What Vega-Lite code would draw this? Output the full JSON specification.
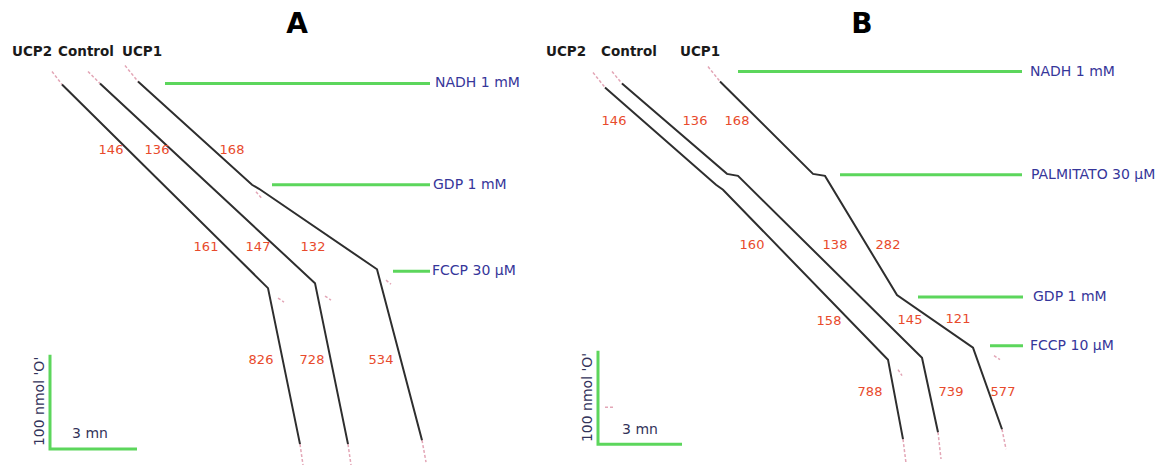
{
  "$schema": "https://vega.github.io/schema/vega-lite/v6.json",
  "width": 1169,
  "height": 468,
  "padding": 0,
  "autosize": {"type": "fit", "contains": "padding"},
  "background": "white",
  "config": {"view": {"stroke": null}},
  "datasets": {
    "lines": [
      {"id": "A_UCP2", "kind": "trace", "o": 1, "x": 62, "y": 85},
      {"id": "A_UCP2", "kind": "trace", "o": 2, "x": 268, "y": 290},
      {"id": "A_UCP2", "kind": "trace", "o": 3, "x": 300, "y": 447},
      {"id": "A_Ctrl", "kind": "trace", "o": 1, "x": 100, "y": 84},
      {"id": "A_Ctrl", "kind": "trace", "o": 2, "x": 315, "y": 285},
      {"id": "A_Ctrl", "kind": "trace", "o": 3, "x": 348, "y": 447},
      {"id": "A_UCP1", "kind": "trace", "o": 1, "x": 138, "y": 82},
      {"id": "A_UCP1", "kind": "trace", "o": 2, "x": 252, "y": 186},
      {"id": "A_UCP1", "kind": "trace", "o": 3, "x": 259, "y": 190},
      {"id": "A_UCP1", "kind": "trace", "o": 4, "x": 377, "y": 271},
      {"id": "A_UCP1", "kind": "trace", "o": 5, "x": 422, "y": 443},
      {"id": "B_UCP2", "kind": "trace", "o": 1, "x": 605, "y": 88},
      {"id": "B_UCP2", "kind": "trace", "o": 2, "x": 716, "y": 186},
      {"id": "B_UCP2", "kind": "trace", "o": 3, "x": 723, "y": 191},
      {"id": "B_UCP2", "kind": "trace", "o": 4, "x": 888, "y": 362},
      {"id": "B_UCP2", "kind": "trace", "o": 5, "x": 903, "y": 442},
      {"id": "B_Ctrl", "kind": "trace", "o": 1, "x": 622, "y": 84},
      {"id": "B_Ctrl", "kind": "trace", "o": 2, "x": 727, "y": 175},
      {"id": "B_Ctrl", "kind": "trace", "o": 3, "x": 738, "y": 177},
      {"id": "B_Ctrl", "kind": "trace", "o": 4, "x": 922, "y": 360},
      {"id": "B_Ctrl", "kind": "trace", "o": 5, "x": 938, "y": 435},
      {"id": "B_UCP1", "kind": "trace", "o": 1, "x": 720, "y": 82},
      {"id": "B_UCP1", "kind": "trace", "o": 2, "x": 813, "y": 175},
      {"id": "B_UCP1", "kind": "trace", "o": 3, "x": 825, "y": 177},
      {"id": "B_UCP1", "kind": "trace", "o": 4, "x": 897, "y": 297},
      {"id": "B_UCP1", "kind": "trace", "o": 5, "x": 973, "y": 350},
      {"id": "B_UCP1", "kind": "trace", "o": 6, "x": 1002, "y": 432},

      {"id": "tA1", "kind": "tip", "o": 1, "x": 52, "y": 72},
      {"id": "tA1", "kind": "tip", "o": 2, "x": 62, "y": 85},
      {"id": "tA2", "kind": "tip", "o": 1, "x": 88, "y": 72},
      {"id": "tA2", "kind": "tip", "o": 2, "x": 100, "y": 84},
      {"id": "tA3", "kind": "tip", "o": 1, "x": 125, "y": 66},
      {"id": "tA3", "kind": "tip", "o": 2, "x": 138, "y": 82},
      {"id": "eA1", "kind": "tip", "o": 1, "x": 300, "y": 447},
      {"id": "eA1", "kind": "tip", "o": 2, "x": 303, "y": 468},
      {"id": "eA2", "kind": "tip", "o": 1, "x": 348, "y": 447},
      {"id": "eA2", "kind": "tip", "o": 2, "x": 351, "y": 468},
      {"id": "eA3", "kind": "tip", "o": 1, "x": 422, "y": 443},
      {"id": "eA3", "kind": "tip", "o": 2, "x": 426, "y": 465},
      {"id": "kA1", "kind": "tip", "o": 1, "x": 278, "y": 300},
      {"id": "kA1", "kind": "tip", "o": 2, "x": 284, "y": 304},
      {"id": "kA2", "kind": "tip", "o": 1, "x": 325, "y": 298},
      {"id": "kA2", "kind": "tip", "o": 2, "x": 331, "y": 302},
      {"id": "kA3", "kind": "tip", "o": 1, "x": 386, "y": 282},
      {"id": "kA3", "kind": "tip", "o": 2, "x": 391, "y": 286},
      {"id": "kA4", "kind": "tip", "o": 1, "x": 256, "y": 193},
      {"id": "kA4", "kind": "tip", "o": 2, "x": 262, "y": 200},
      {"id": "tB1", "kind": "tip", "o": 1, "x": 593, "y": 73},
      {"id": "tB1", "kind": "tip", "o": 2, "x": 605, "y": 88},
      {"id": "tB2", "kind": "tip", "o": 1, "x": 612, "y": 72},
      {"id": "tB2", "kind": "tip", "o": 2, "x": 622, "y": 84},
      {"id": "tB3", "kind": "tip", "o": 1, "x": 708, "y": 67},
      {"id": "tB3", "kind": "tip", "o": 2, "x": 720, "y": 82},
      {"id": "eB1", "kind": "tip", "o": 1, "x": 903, "y": 442},
      {"id": "eB1", "kind": "tip", "o": 2, "x": 906, "y": 466},
      {"id": "eB2", "kind": "tip", "o": 1, "x": 938, "y": 435},
      {"id": "eB2", "kind": "tip", "o": 2, "x": 941, "y": 462},
      {"id": "eB3", "kind": "tip", "o": 1, "x": 1002, "y": 432},
      {"id": "eB3", "kind": "tip", "o": 2, "x": 1006, "y": 452},
      {"id": "kB1", "kind": "tip", "o": 1, "x": 994, "y": 358},
      {"id": "kB1", "kind": "tip", "o": 2, "x": 1000, "y": 362},
      {"id": "kB2", "kind": "tip", "o": 1, "x": 898, "y": 372},
      {"id": "kB2", "kind": "tip", "o": 2, "x": 902, "y": 378},
      {"id": "kB3", "kind": "tip", "o": 1, "x": 605, "y": 410},
      {"id": "kB3", "kind": "tip", "o": 2, "x": 615, "y": 410},

      {"id": "gA1", "kind": "green", "o": 1, "x": 165, "y": 84},
      {"id": "gA1", "kind": "green", "o": 2, "x": 430, "y": 84},
      {"id": "gA2", "kind": "green", "o": 1, "x": 272, "y": 186},
      {"id": "gA2", "kind": "green", "o": 2, "x": 430, "y": 186},
      {"id": "gA3", "kind": "green", "o": 1, "x": 393, "y": 273},
      {"id": "gA3", "kind": "green", "o": 2, "x": 430, "y": 273},
      {"id": "gAs", "kind": "green", "o": 1, "x": 50, "y": 357},
      {"id": "gAs", "kind": "green", "o": 2, "x": 50, "y": 452},
      {"id": "gAs", "kind": "green", "o": 3, "x": 137, "y": 452},
      {"id": "gB1", "kind": "green", "o": 1, "x": 738, "y": 72},
      {"id": "gB1", "kind": "green", "o": 2, "x": 1022, "y": 72},
      {"id": "gB2", "kind": "green", "o": 1, "x": 840, "y": 176},
      {"id": "gB2", "kind": "green", "o": 2, "x": 1022, "y": 176},
      {"id": "gB3", "kind": "green", "o": 1, "x": 918, "y": 299},
      {"id": "gB3", "kind": "green", "o": 2, "x": 1023, "y": 299},
      {"id": "gB4", "kind": "green", "o": 1, "x": 990, "y": 348},
      {"id": "gB4", "kind": "green", "o": 2, "x": 1023, "y": 348},
      {"id": "gBs", "kind": "green", "o": 1, "x": 598, "y": 353},
      {"id": "gBs", "kind": "green", "o": 2, "x": 598, "y": 447},
      {"id": "gBs", "kind": "green", "o": 3, "x": 682, "y": 447}
    ],
    "titles": [
      {"label": "A", "x": 297, "y": 25},
      {"label": "B", "x": 862, "y": 25}
    ],
    "headers": [
      {"label": "UCP2", "x": 32, "y": 52},
      {"label": "Control", "x": 86, "y": 52},
      {"label": "UCP1", "x": 142, "y": 52},
      {"label": "UCP2", "x": 566, "y": 52},
      {"label": "Control", "x": 629, "y": 52},
      {"label": "UCP1", "x": 700, "y": 52}
    ],
    "agents": [
      {"label": "NADH 1 mM", "x": 435, "y": 84},
      {"label": "GDP 1 mM", "x": 433, "y": 186},
      {"label": "FCCP 30 µM", "x": 432, "y": 273},
      {"label": "NADH 1 mM", "x": 1030, "y": 72},
      {"label": "PALMITATO 30 µM", "x": 1031, "y": 176},
      {"label": "GDP 1 mM", "x": 1033, "y": 299},
      {"label": "FCCP 10 µM", "x": 1030, "y": 348}
    ],
    "rates": [
      {"label": "146", "x": 111, "y": 151},
      {"label": "136", "x": 157, "y": 151},
      {"label": "168", "x": 232, "y": 151},
      {"label": "161", "x": 206, "y": 249},
      {"label": "147", "x": 258, "y": 249},
      {"label": "132", "x": 313, "y": 249},
      {"label": "826", "x": 261, "y": 362},
      {"label": "728", "x": 312, "y": 362},
      {"label": "534", "x": 381, "y": 362},
      {"label": "146", "x": 614, "y": 122},
      {"label": "136", "x": 695, "y": 122},
      {"label": "168", "x": 737, "y": 122},
      {"label": "160", "x": 752, "y": 247},
      {"label": "138", "x": 835, "y": 247},
      {"label": "282", "x": 888, "y": 247},
      {"label": "158", "x": 829, "y": 323},
      {"label": "145", "x": 910, "y": 322},
      {"label": "121", "x": 958, "y": 321},
      {"label": "788", "x": 870, "y": 395},
      {"label": "739", "x": 951, "y": 395},
      {"label": "577", "x": 1003, "y": 395}
    ],
    "scaletime": [
      {"label": "3 mn", "x": 90, "y": 437},
      {"label": "3 mn", "x": 640, "y": 433}
    ],
    "scaleo2": [
      {"label": "100 nmol 'O'", "x": 40, "y": 404},
      {"label": "100 nmol 'O'", "x": 588, "y": 400}
    ]
  },
  "encoding": {
    "x": {"field": "x", "type": "quantitative", "scale": {"domain": [0, 1169], "nice": false, "zero": false}, "axis": null},
    "y": {"field": "y", "type": "quantitative", "scale": {"domain": [0, 468], "nice": false, "zero": false, "reverse": true}, "axis": null}
  },
  "layer": [
    {
      "data": {"name": "lines"},
      "transform": [{"filter": "datum.kind === 'green'"}],
      "mark": {"type": "line", "color": "#5cd65c", "strokeWidth": 3, "strokeCap": "butt", "clip": false},
      "encoding": {"detail": {"field": "id"}, "order": {"field": "o"}}
    },
    {
      "data": {"name": "lines"},
      "transform": [{"filter": "datum.kind === 'tip'"}],
      "mark": {"type": "line", "color": "#e3a6b6", "strokeWidth": 1.5, "strokeDash": [3, 2]},
      "encoding": {"detail": {"field": "id"}, "order": {"field": "o"}}
    },
    {
      "data": {"name": "lines"},
      "transform": [{"filter": "datum.kind === 'trace'"}],
      "mark": {"type": "line", "color": "#2e2e2e", "strokeWidth": 2},
      "encoding": {"detail": {"field": "id"}, "order": {"field": "o"}}
    },
    {
      "data": {"name": "titles"},
      "mark": {"type": "text", "font": "DejaVu Sans", "fontWeight": "bold", "fontSize": 28, "color": "#000000", "align": "center", "baseline": "middle"},
      "encoding": {"text": {"field": "label"}}
    },
    {
      "data": {"name": "headers"},
      "mark": {"type": "text", "font": "DejaVu Sans", "fontWeight": "bold", "fontSize": 13.5, "color": "#1a1a1a", "align": "center", "baseline": "middle"},
      "encoding": {"text": {"field": "label"}}
    },
    {
      "data": {"name": "agents"},
      "mark": {"type": "text", "font": "DejaVu Sans", "fontSize": 14, "color": "#36369a", "align": "left", "baseline": "middle"},
      "encoding": {"text": {"field": "label"}}
    },
    {
      "data": {"name": "rates"},
      "mark": {"type": "text", "font": "DejaVu Sans", "fontSize": 13, "color": "#e84a2c", "align": "center", "baseline": "middle"},
      "encoding": {"text": {"field": "label"}}
    },
    {
      "data": {"name": "scaletime"},
      "mark": {"type": "text", "font": "DejaVu Sans", "fontSize": 14, "color": "#33335a", "align": "center", "baseline": "middle"},
      "encoding": {"text": {"field": "label"}}
    },
    {
      "data": {"name": "scaleo2"},
      "mark": {"type": "text", "font": "DejaVu Sans", "fontSize": 14, "color": "#33335a", "align": "center", "baseline": "middle", "angle": 270},
      "encoding": {"text": {"field": "label"}}
    }
  ]
}
